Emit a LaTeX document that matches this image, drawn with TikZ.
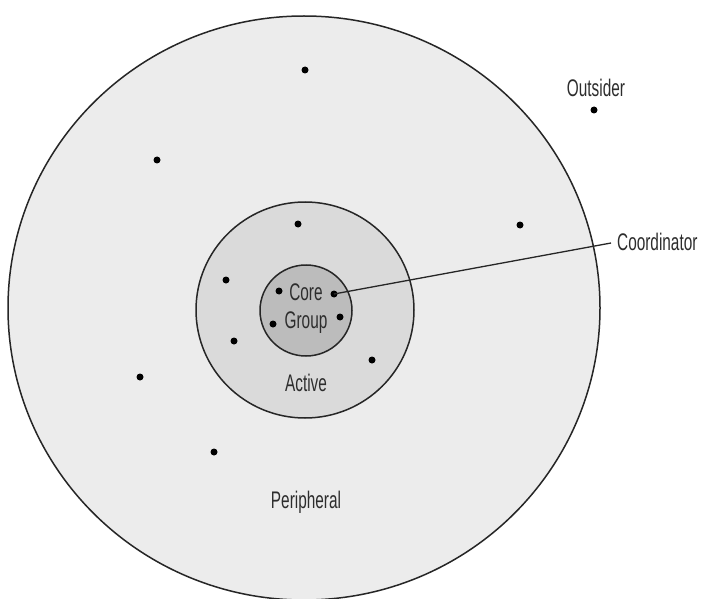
\documentclass[tikz,border=0pt]{standalone}
\usepackage{fontspec}
\newfontfamily\condfont[FakeStretch=0.64]{Liberation Sans}
\usetikzlibrary{shapes.geometric}
\definecolor{periph}{RGB}{236,236,236}
\definecolor{activec}{RGB}{218,218,218}
\definecolor{corec}{RGB}{188,188,188}
\definecolor{txt}{RGB}{45,45,45}
\tikzset{
  ring/.style={ellipse, draw=black!85, line width=1.5pt, inner sep=0pt},
  member/.style={circle, fill=black, inner sep=0pt, minimum size=7pt},
  lbl/.style={font=\condfont\fontsize{24}{24}\selectfont, text=txt, inner sep=0pt}
}
\begin{document}
\begin{tikzpicture}[x=1pt,y=-1pt]
\useasboundingbox (0,0) rectangle (707,599);
\fill[white] (0,0) rectangle (707,599);
% rings
\node[ring, fill=periph, minimum width=592pt, minimum height=584pt] (outer) at (304,308) {};
\node[ring, fill=activec, minimum width=218pt, minimum height=216pt] (active) at (305,310) {};
\node[ring, fill=corec, minimum width=92pt, minimum height=91pt] (core) at (306,310.5) {};
% peripheral members
\node[member] (p1) at (305,70) {};
\node[member] (p2) at (157,160) {};
\node[member] (p3) at (520,225) {};
\node[member] (p4) at (140,377) {};
\node[member] (p5) at (214,452) {};
% active members
\node[member] (a1) at (298,224) {};
\node[member] (a2) at (226,280) {};
\node[member] (a3) at (234,341) {};
\node[member] (a4) at (372,360) {};
% core members
\node[member] (c1) at (279,291) {};
\node[member] (cdot) at (334,294) {};
\node[member] (c3) at (273,324) {};
\node[member] (c4) at (340,317) {};
% outsider
\node[member] (o1) at (594,110) {};
% labels
\node[lbl] (outsiderlbl) at (596,88) {Outsider};
\node[lbl] (corelbl) at (306,292) {Core};
\node[lbl] (grouplbl) at (306,323) {Group};
\node[lbl] (activelbl) at (306,383) {Active};
\node[lbl] (periphlbl) at (306,502) {Peripheral};
\node[lbl, anchor=west] (coordlbl) at (617,242) {Coordinator};
\coordinate (cend) at (611,243);
\draw[line width=1.3pt, black!85] (cdot.center) -- (cend);
\end{tikzpicture}
\end{document}
